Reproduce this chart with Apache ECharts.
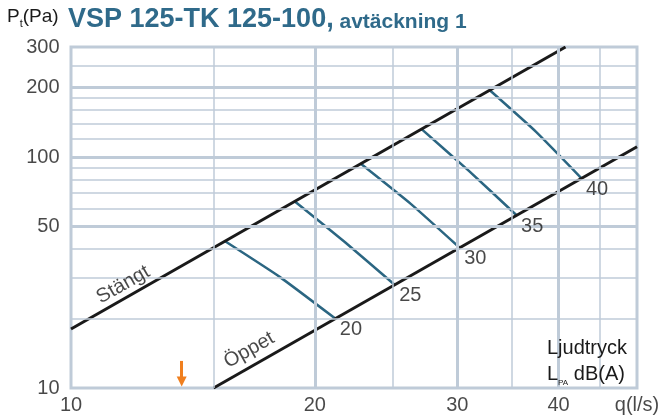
<!DOCTYPE html>
<html>
<head>
<meta charset="utf-8">
<script src="https://cdn.jsdelivr.net/npm/echarts@6/dist/echarts.min.js"></script>
<style>
html,body{margin:0;padding:0;background:#fff;}
#chart{width:660px;height:419px;}
</style>
</head>
<body>
<div id="chart"></div>
<script>
// ---- data ----
const xMajor = [20, 30, 40];
const xMinor = [15, 25, 35, 45];
const yMajor = [50, 100, 200];
const yMinor = [20, 30, 40, 60, 70, 80, 90, 120, 140, 160, 180, 250];
const xTickLabels = [10, 20, 30, 40];
const yTickLabels = [10, 50, 100, 200, 300];
const stangt = [[10, 18], [40.8, 300]];
const oppet = [[15, 10], [50, 111]];
const curve20 = [[15.5, 43.2], [18.1, 30.3], [21.2, 20.0]];
const curve25 = [[18.9, 64.3], [21.8, 42.8], [25.1, 28.0]];
const curve30 = [[22.8, 93.6], [26.3, 62.6], [30.2, 40.5]];
const curve35 = [[27.1, 132.2], [31.0, 87.2], [35.5, 56.0]];
const curve40 = [[32.9, 194.8], [37.5, 129.0], [42.7, 81.0]];
const curves = [curve20, curve25, curve30, curve35, curve40];
const curveNames = ['20', '25', '30', '35', '40'];
const stangtLabelPt = [11.6, 28.0];
const oppetLabelPt = [16.6, 14.6];
const arrowQ = 13.7;
const arrowP = [13.1, 10.67];

const FONT = 'Liberation Sans, Arial, Helvetica, sans-serif';
const GRID = '#bfcbd8';
const CURVE = '#2b6682';
const TITLE = '#2f6a8a';
const INK = '#1a1a1a';

const chart = echarts.init(document.getElementById('chart'), null, {renderer: 'canvas'});

const hidden = {show: false};
function gridSeries(xs, ys, width) {
  return {
    type: 'line', data: [], silent: true, z: 1,
    markLine: {
      silent: true, symbol: ['none', 'none'], animation: false,
      label: {show: false},
      lineStyle: {color: GRID, width: width, type: 'solid'},
      data: xs.map(v => ({xAxis: v})).concat(ys.map(v => ({yAxis: v})))
    }
  };
}
function textSeries(data, label) {
  return {
    type: 'scatter', data: data, symbolSize: 1, silent: true, z: 5,
    itemStyle: {color: 'transparent'},
    label: Object.assign({show: true, fontFamily: FONT, color: INK, fontSize: 20}, label)
  };
}

const series = [
  gridSeries(xMinor, yMinor, 1.5),
  gridSeries(xMajor, yMajor, 3),
  {type: 'line', data: stangt, symbol: 'none', z: 4, lineStyle: {color: INK, width: 3}},
  {type: 'line', data: oppet, symbol: 'none', z: 4, lineStyle: {color: INK, width: 3}},
];
curves.forEach(c => series.push({type: 'line', data: c, smooth: 0.15, symbol: 'none', z: 3,
  lineStyle: {color: CURVE, width: 2.5}}));
// curve labels at Öppet ends
series.push(textSeries(curves.map((c, i) => ({value: c[c.length - 1], name: curveNames[i]})),
  {position: 'right', distance: 4, offset: [0, 11], formatter: p => p.name}));
// axis tick labels
series.push(textSeries(yTickLabels.map(v => [10, v]),
  {position: 'left', distance: 11, formatter: p => String(p.value[1])}));
series.push(textSeries(xTickLabels.map(v => [v, 10]),
  {position: 'bottom', distance: 7, formatter: p => String(p.value[0])}));
series.push(textSeries([[50, 10]], {position: 'bottom', distance: 7, formatter: 'q(l/s)'}));
// line names
series.push(textSeries([stangtLabelPt], {position: 'inside', rotate: 29.6, formatter: 'Stängt'}));
series.push(textSeries([oppetLabelPt], {position: 'inside', rotate: 29.6, formatter: 'Öppet'}));
// orange arrow
series.push({type: 'line', data: [], silent: true, z: 6,
  markLine: {silent: true, animation: false, symbol: ['none', 'triangle'], symbolSize: [10, 10],
    label: {show: false}, lineStyle: {color: '#f07f1e', width: 3, type: 'solid'},
    data: [[{coord: [arrowQ, arrowP[0]]}, {coord: [arrowQ, arrowP[1]]}]]}});

const option = {
  animation: false,
  title: [
    {left: 7, top: 5, padding: 0, text: '{p|P}{s|t}{p|(Pa)}',
      textStyle: {fontWeight: 'normal', rich: {
        p: {fontFamily: FONT, fontSize: 19, fontWeight: 'normal', color: INK, lineHeight: 24},
        s: {fontFamily: FONT, fontSize: 11, fontWeight: 'normal', color: INK, verticalAlign: 'bottom', lineHeight: 16}
      }}},
    {left: 68, top: 3, padding: 0, text: '{a|VSP 125-TK 125-100,}{b| avtäckning 1}',
      textStyle: {rich: {
        a: {fontFamily: FONT, fontSize: 27, fontWeight: 'bold', color: TITLE, lineHeight: 30, verticalAlign: 'bottom'},
        b: {fontFamily: FONT, fontSize: 21, fontWeight: 'bold', color: TITLE, lineHeight: 27, verticalAlign: 'bottom'}
      }}},
    {left: 547, top: 335, padding: 0, text: 'Ljudtryck\n{l|L}{s|PA}{l| dB(A)}',
      textStyle: {fontFamily: FONT, fontSize: 20, color: INK, fontWeight: 'normal', lineHeight: 26,
        rich: {
          l: {fontFamily: FONT, fontSize: 20, fontWeight: 'normal', color: INK, lineHeight: 26},
          s: {fontFamily: FONT, fontSize: 8, fontWeight: 'normal', color: INK, verticalAlign: 'bottom', lineHeight: 18}
        }}}
  ],
  grid: {left: 71, right: 23, top: 47, bottom: 31, show: true, borderColor: GRID, borderWidth: 3,
    backgroundColor: 'transparent'},
  xAxis: {type: 'log', logBase: 10, min: 10, max: 50, axisLine: hidden, axisTick: hidden,
    axisLabel: hidden, splitLine: hidden},
  yAxis: {type: 'log', logBase: 10, min: 10, max: 300, axisLine: hidden, axisTick: hidden,
    axisLabel: hidden, splitLine: hidden},
  series: series
};
chart.setOption(option);
</script>
</body>
</html>
